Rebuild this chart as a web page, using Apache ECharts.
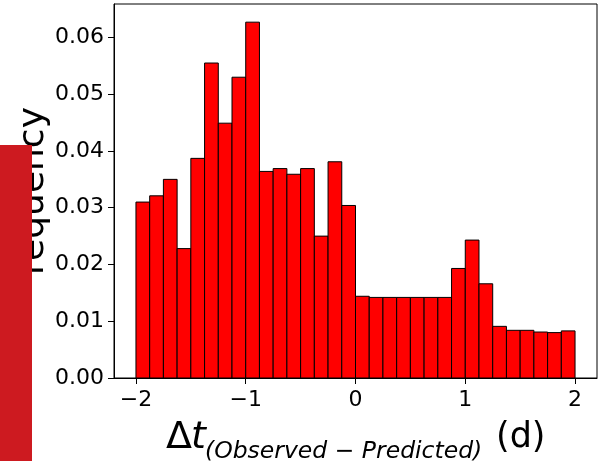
<!DOCTYPE html>
<html>
<head>
<meta charset="utf-8">
<script src="https://cdn.jsdelivr.net/npm/echarts@6/dist/echarts.min.js"></script>
<style>html,body{margin:0;padding:0;background:#fff;}#c{width:608px;height:461px;}</style>
</head>
<body>
<div id="c"></div>
<script>
const binEdges = [-2, -1.875, -1.75, -1.625, -1.5, -1.375, -1.25, -1.125, -1, -0.875, -0.75, -0.625, -0.5, -0.375, -0.25, -0.125, 0,
  0.125, 0.25, 0.375, 0.5, 0.625, 0.75, 0.875, 1, 1.125, 1.25, 1.375, 1.5, 1.625, 1.75, 1.875, 2];
const frequency = [0.0310, 0.0321, 0.0350, 0.0228, 0.0387, 0.0555, 0.0449, 0.0530, 0.0627, 0.0364, 0.0369, 0.0359, 0.0369, 0.0250, 0.0381, 0.0304,
  0.0144, 0.0142, 0.0142, 0.0142, 0.0142, 0.0142, 0.0142, 0.0193, 0.0243, 0.0166, 0.0091, 0.0084, 0.0084, 0.0081, 0.0080, 0.0083];
const xTicks = [-2, -1, 0, 1, 2];
const yTicks = [0, 0.01, 0.02, 0.03, 0.04, 0.05, 0.06];

const FONT = 'DejaVu Sans';
const chart = echarts.init(document.getElementById('c'), null, {renderer: 'canvas'});
const data = frequency.map((f, i) => [binEdges[i], binEdges[i + 1], f]);

chart.setOption({
  animation: false,
  backgroundColor: '#fff',
  grid: {left: 114, top: 4, right: 11, bottom: 83, show: true, borderColor: '#000', borderWidth: 1, backgroundColor: 'transparent'},
  xAxis: {
    type: 'value', min: -2.2, max: 2.2,
    axisLine: {show: true, onZero: false, lineStyle: {color: '#000', width: 1}},
    axisTick: {show: true, length: 6, lineStyle: {color: '#000'}, customValues: xTicks},
    axisLabel: {show: true, customValues: xTicks, color: '#000', fontFamily: FONT, fontSize: 22, margin: 11,
      formatter: v => (v < 0 ? '\u2212' + Math.abs(v) : String(v))},
    splitLine: {show: false}
  },
  yAxis: {
    type: 'value', min: 0, max: 0.0659,
    axisLine: {show: true, onZero: false, lineStyle: {color: '#000', width: 1}},
    axisTick: {show: true, length: 6, lineStyle: {color: '#000'}, customValues: yTicks},
    axisLabel: {show: true, customValues: yTicks, color: '#000', fontFamily: FONT, fontSize: 22, margin: 10,
      formatter: v => v.toFixed(2)},
    splitLine: {show: false}
  },
  series: [{
    type: 'custom',
    data: data,
    encode: {x: [0, 1], y: 2},
    renderItem: (params, api) => {
      const p0 = api.coord([api.value(0), 0]);
      const p1 = api.coord([api.value(1), api.value(2)]);
      return {
        type: 'rect',
        shape: {x: p0[0], y: p1[1], width: p1[0] - p0[0], height: p0[1] - p1[1]},
        style: {fill: '#ff0000', stroke: '#000', lineWidth: 1}
      };
    }
  }],
  graphic: [
    {type: 'text', x: 34, y: 191, rotation: Math.PI / 2, z: 10,
      style: {text: 'requency', fill: '#000', font: '36px "DejaVu Sans"', textAlign: 'center', textVerticalAlign: 'middle'}},
    {type: 'rect', z: 20, shape: {x: 0, y: 145, width: 32, height: 316}, style: {fill: '#cd1a20'}},
    {type: 'text', x: 166, y: 438, z: 10,
      style: {text: '\u0394', fill: '#000', font: '38px "DejaVu Sans"', textAlign: 'left', textVerticalAlign: 'middle'}},
    {type: 'text', x: 191, y: 438, z: 10,
      style: {text: 't', fill: '#000', font: 'italic 38px "DejaVu Sans"', textAlign: 'left', textVerticalAlign: 'middle'}},
    {type: 'text', x: 205, y: 452, z: 10,
      style: {text: '(Observed \u2212 Predicted)', fill: '#000', font: 'italic 23.5px "DejaVu Sans"', textAlign: 'left', textVerticalAlign: 'middle'}},
    {type: 'text', x: 496, y: 438, z: 10,
      style: {text: '(d)', fill: '#000', font: '35px "DejaVu Sans"', textAlign: 'left', textVerticalAlign: 'middle'}}
  ]
});
</script>
</body>
</html>
